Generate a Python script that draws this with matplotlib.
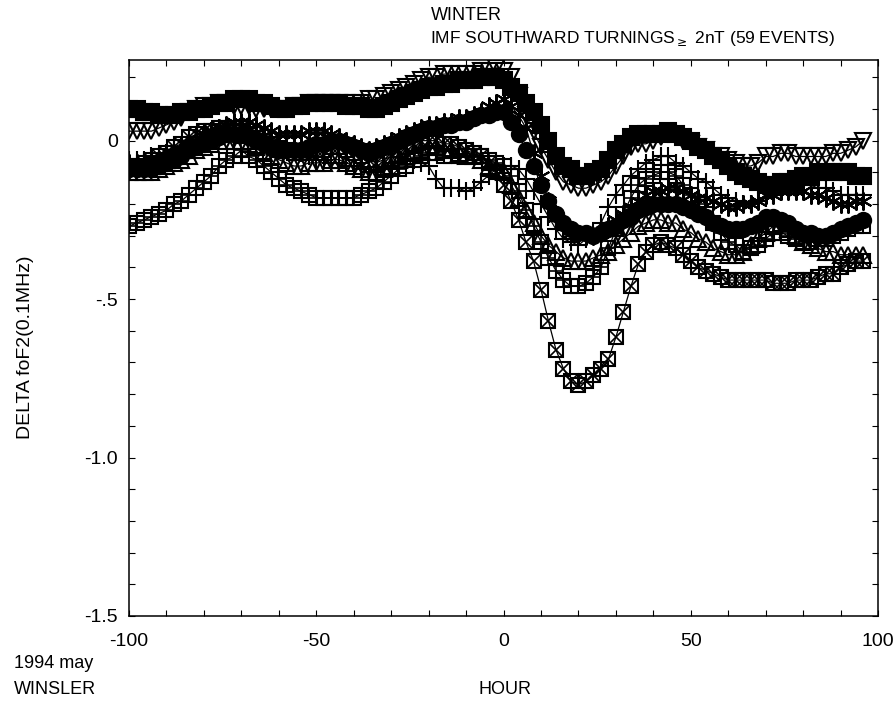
import numpy as np
import matplotlib
matplotlib.use("Agg")
from matplotlib import pyplot as plt
from matplotlib.ticker import MultipleLocator

plt.rcParams['font.family'] = ['Liberation Sans', 'DejaVu Sans']

# hours relative to the southward turning, every 2 h
hours = np.arange(-100, 97, 2)

# DELTA foF2 (0.1 MHz), one list per curve
filled_sq = [0.10, 0.10, 0.09, 0.09, 0.08, 0.08, 0.08, 0.09, 0.09, 0.10,
             0.10, 0.11, 0.12, 0.12, 0.13, 0.13, 0.13, 0.12, 0.12, 0.11,
             0.10, 0.10, 0.11, 0.11, 0.12, 0.12, 0.12, 0.12, 0.12, 0.11,
             0.11, 0.11, 0.10, 0.10, 0.11, 0.12, 0.13, 0.14, 0.15, 0.16,
             0.17, 0.17, 0.18, 0.18, 0.19, 0.19, 0.19, 0.20, 0.20, 0.20,
             0.19, 0.17, 0.15, 0.12, 0.09, 0.05, 0.00, -0.05, -0.08, -0.09,
             -0.11, -0.11, -0.10, -0.09, -0.06, -0.03, -0.01, 0.01, 0.02, 0.02,
             0.02, 0.02, 0.03, 0.02, 0.01, 0.00, -0.02, -0.03, -0.05, -0.06,
             -0.08, -0.10, -0.11, -0.12, -0.13, -0.14, -0.14, -0.13, -0.13, -0.12,
             -0.11, -0.11, -0.10, -0.10, -0.10, -0.10, -0.10, -0.11, -0.11]

tri_down = [0.03, 0.03, 0.03, 0.03, 0.04, 0.05, 0.06, 0.07, 0.09, 0.10,
            0.11, 0.11, 0.12, 0.12, 0.11, 0.11, 0.11, 0.10, 0.10, 0.10,
            0.10, 0.10, 0.11, 0.11, 0.12, 0.12, 0.12, 0.12, 0.12, 0.12,
            0.12, 0.12, 0.13, 0.13, 0.14, 0.15, 0.16, 0.17, 0.18, 0.19,
            0.20, 0.20, 0.21, 0.21, 0.21, 0.21, 0.21, 0.22, 0.22, 0.23,
            0.22, 0.20, 0.14, 0.08, 0.03, -0.02, -0.06, -0.10, -0.13, -0.14,
            -0.15, -0.15, -0.14, -0.13, -0.11, -0.08, -0.05, -0.02, -0.01, -0.01,
            0.00, 0.01, 0.02, 0.01, 0.00, -0.01, -0.02, -0.03, -0.05, -0.05,
            -0.06, -0.07, -0.08, -0.08, -0.07, -0.05, -0.05, -0.04, -0.04, -0.05,
            -0.05, -0.05, -0.05, -0.05, -0.04, -0.04, -0.03, -0.02, 0.00]

stars = [-0.07, -0.07, -0.07, -0.06, -0.06, -0.05, -0.04, -0.03, -0.01, 0.00,
         0.02, 0.03, 0.04, 0.05, 0.06, 0.06, 0.06, 0.05, 0.04, 0.03,
         0.02, 0.02, 0.02, 0.02, 0.03, 0.03, 0.03, 0.02, 0.01, 0.00,
         -0.01, -0.02, -0.03, -0.02, -0.01, 0.00, 0.01, 0.02, 0.03, 0.04,
         0.05, 0.05, 0.06, 0.06, 0.07, 0.07, 0.08, 0.09, 0.11, 0.12,
         0.13, 0.11, 0.08, 0.04, -0.04, -0.11, -0.19, -0.24, -0.27, -0.29,
         -0.30, -0.30, -0.30, -0.29, -0.27, -0.25, -0.23, -0.21, -0.19, -0.17,
         -0.16, -0.16, -0.15, -0.15, -0.16, -0.17, -0.18, -0.18, -0.19, -0.20,
         -0.21, -0.21, -0.20, -0.20, -0.19, -0.17, -0.17, -0.16, -0.16, -0.16,
         -0.16, -0.17, -0.17, -0.18, -0.19, -0.20, -0.20, -0.19, -0.19]

filled_circ = [-0.09, -0.09, -0.09, -0.09, -0.08, -0.07, -0.06, -0.05, -0.03, -0.02,
               -0.01, 0.00, 0.01, 0.02, 0.02, 0.02, 0.01, 0.00, -0.01, -0.02,
               -0.03, -0.03, -0.03, -0.03, -0.02, -0.01, -0.01, 0.00, 0.00, -0.01,
               -0.02, -0.03, -0.04, -0.03, -0.02, -0.01, 0.00, 0.01, 0.02, 0.03,
               0.04, 0.04, 0.05, 0.05, 0.06, 0.06, 0.07, 0.08, 0.08, 0.09,
               0.09, 0.06, 0.02, -0.03, -0.08, -0.14, -0.19, -0.23, -0.26, -0.28,
               -0.29, -0.29, -0.30, -0.29, -0.28, -0.27, -0.25, -0.24, -0.22, -0.21,
               -0.20, -0.20, -0.20, -0.20, -0.21, -0.22, -0.23, -0.24, -0.26, -0.27,
               -0.28, -0.28, -0.28, -0.27, -0.26, -0.24, -0.24, -0.25, -0.26, -0.28,
               -0.29, -0.29, -0.30, -0.30, -0.29, -0.28, -0.27, -0.26, -0.25]

plus = [-0.06, -0.06, -0.06, -0.05, -0.05, -0.04, -0.03, -0.02, 0.00, 0.01,
        0.02, 0.03, 0.04, 0.04, 0.05, 0.05, 0.04, 0.03, 0.02, 0.01,
        0.00, -0.02, -0.03, -0.04, -0.05, -0.06, -0.06, -0.07, -0.07, -0.08,
        -0.08, -0.09, -0.10, -0.10, -0.09, -0.08, -0.07, -0.06, -0.06, -0.07,
        -0.08, -0.12, -0.15, -0.15, -0.15, -0.16, -0.15, -0.13, -0.11, -0.09,
        -0.08, -0.08, -0.09, -0.12, -0.16, -0.20, -0.24, -0.28, -0.31, -0.32,
        -0.33, -0.31, -0.29, -0.26, -0.21, -0.17, -0.14, -0.11, -0.09, -0.07,
        -0.06, -0.05, -0.05, -0.07, -0.08, -0.10, -0.12, -0.13, -0.15, -0.17,
        -0.18, -0.19, -0.20, -0.20, -0.19, -0.18, -0.17, -0.16, -0.15, -0.14,
        -0.14, -0.14, -0.15, -0.15, -0.16, -0.17, -0.17, -0.17, -0.17]

box_plus = [-0.27, -0.26, -0.25, -0.24, -0.23, -0.22, -0.20, -0.19, -0.17, -0.15,
            -0.13, -0.11, -0.08, -0.06, -0.05, -0.03, -0.05, -0.06, -0.08, -0.10,
            -0.12, -0.14, -0.15, -0.16, -0.17, -0.18, -0.18, -0.18, -0.18, -0.18,
            -0.18, -0.17, -0.16, -0.15, -0.13, -0.11, -0.09, -0.08, -0.06, -0.05,
            -0.04, -0.04, -0.05, -0.05, -0.05, -0.05, -0.05, -0.05, -0.06, -0.07,
            -0.08, -0.11, -0.16, -0.22, -0.27, -0.32, -0.37, -0.41, -0.44, -0.46,
            -0.46, -0.45, -0.43, -0.40, -0.34, -0.28, -0.23, -0.18, -0.14, -0.12,
            -0.11, -0.10, -0.10, -0.11, -0.14, -0.17, -0.20, -0.23, -0.26, -0.29,
            -0.32, -0.33, -0.35, -0.34, -0.33, -0.31, -0.29, -0.29, -0.30, -0.31,
            -0.32, -0.32, -0.31, -0.31, -0.30, -0.29, -0.28, -0.27, -0.27]

box_x = [-0.08, -0.08, -0.07, -0.06, -0.05, -0.04, -0.02, -0.01, 0.01, 0.02,
         0.03, 0.03, 0.04, 0.04, 0.04, 0.04, 0.03, 0.02, 0.00, -0.01,
         -0.03, -0.03, -0.04, -0.04, -0.03, -0.03, -0.03, -0.02, -0.02, -0.03,
         -0.04, -0.05, -0.06, -0.07, -0.06, -0.05, -0.03, -0.02, -0.01, 0.00,
         0.00, 0.00, -0.01, -0.01, -0.02, -0.03, -0.04, -0.05, -0.07, -0.10,
         -0.14, -0.19, -0.25, -0.32, -0.38, -0.47, -0.57, -0.66, -0.72, -0.76,
         -0.77, -0.76, -0.74, -0.72, -0.69, -0.62, -0.54, -0.46, -0.39, -0.35,
         -0.33, -0.32, -0.33, -0.34, -0.36, -0.38, -0.40, -0.41, -0.42, -0.43,
         -0.44, -0.44, -0.44, -0.44, -0.44, -0.44, -0.45, -0.45, -0.45, -0.44,
         -0.44, -0.44, -0.43, -0.42, -0.42, -0.40, -0.39, -0.38, -0.38]

tri_up = [-0.10, -0.10, -0.10, -0.10, -0.09, -0.08, -0.07, -0.06, -0.05, -0.03,
          -0.02, -0.01, 0.00, 0.00, 0.00, 0.00, -0.01, -0.02, -0.04, -0.05,
          -0.06, -0.07, -0.08, -0.08, -0.07, -0.07, -0.07, -0.06, -0.06, -0.07,
          -0.08, -0.09, -0.10, -0.10, -0.09, -0.08, -0.06, -0.05, -0.04, -0.03,
          -0.02, -0.02, -0.03, -0.03, -0.04, -0.05, -0.05, -0.06, -0.08, -0.09,
          -0.10, -0.14, -0.18, -0.22, -0.26, -0.30, -0.33, -0.35, -0.37, -0.38,
          -0.38, -0.38, -0.37, -0.36, -0.35, -0.33, -0.31, -0.29, -0.27, -0.26,
          -0.25, -0.25, -0.26, -0.26, -0.28, -0.29, -0.31, -0.32, -0.34, -0.35,
          -0.36, -0.36, -0.35, -0.33, -0.31, -0.29, -0.27, -0.26, -0.28, -0.30,
          -0.32, -0.33, -0.34, -0.35, -0.35, -0.36, -0.36, -0.36, -0.36]

fig = plt.figure(figsize=(8.96, 7.04), dpi=100)
ax = fig.add_axes([0.144, 0.125, 0.836, 0.790])

line_kw = dict(color='black', lw=0.9, mec='black', mew=1.5)
ax.plot(hours, box_x, marker='s', mfc='none', ms=10, **line_kw)
ax.plot(hours, box_x, ls='none', marker='x', ms=8, mec='black', mew=1.2)
ax.plot(hours, box_plus, marker='s', mfc='none', ms=10, **line_kw)
ax.plot(hours, box_plus, ls='none', marker='+', ms=10, mec='black', mew=1.2)
ax.plot(hours, tri_up, marker='^', mfc='none', ms=11, **line_kw)
ax.plot(hours, plus, marker='+', ms=13, **line_kw)
ax.plot(hours, filled_circ, marker='o', mfc='black', ms=11, **line_kw)
ax.plot(hours, stars, marker=(6, 2, 0), ms=13, **line_kw)
ax.plot(hours, filled_sq, marker='s', mfc='black', ms=11, **line_kw)
ax.plot(hours, tri_down, marker='v', mfc='none', ms=11, **line_kw)

ax.set_xlim(-100, 100)
ax.set_ylim(-1.5, 0.255)
ax.set_xticks([-100, -50, 0, 50, 100])
ax.set_xticklabels(['-100', '-50', '0', '50', '100'])
ax.set_yticks([0, -0.5, -1.0, -1.5])
ax.set_yticklabels(['0', '-.5', '-1.0', '-1.5'])
ax.xaxis.set_minor_locator(MultipleLocator(10))
ax.yaxis.set_minor_locator(MultipleLocator(0.1))
ax.tick_params(which='both', direction='in', top=True, right=True,
               length=4, width=0.8, labelsize=14)
ax.tick_params(axis='x', pad=12)
ax.tick_params(axis='y', pad=8)
for sp in ax.spines.values():
    sp.set_linewidth(1.1)

fig.text(431 / 896, 1 - 16 / 704, 'WINTER', ha='left', va='center', fontsize=13)
fig.text(430 / 896, 1 - 38 / 704, r'IMF SOUTHWARD TURNINGS$_{\geq}$ 2nT (59 EVENTS)',
         ha='left', va='center', fontsize=12.5)
fig.text(25 / 896, 1 - 347 / 704, 'DELTA foF2(0.1MHz)', rotation=90,
         ha='center', va='center', fontsize=14)
fig.text(505 / 896, 1 - 690 / 704, 'HOUR', ha='center', va='center', fontsize=13)
fig.text(14 / 896, 1 - 663 / 704, '1994 may', ha='left', va='center', fontsize=13)
fig.text(14 / 896, 1 - 690 / 704, 'WINSLER', ha='left', va='center', fontsize=13)

fig.savefig('out.png', dpi=100)
